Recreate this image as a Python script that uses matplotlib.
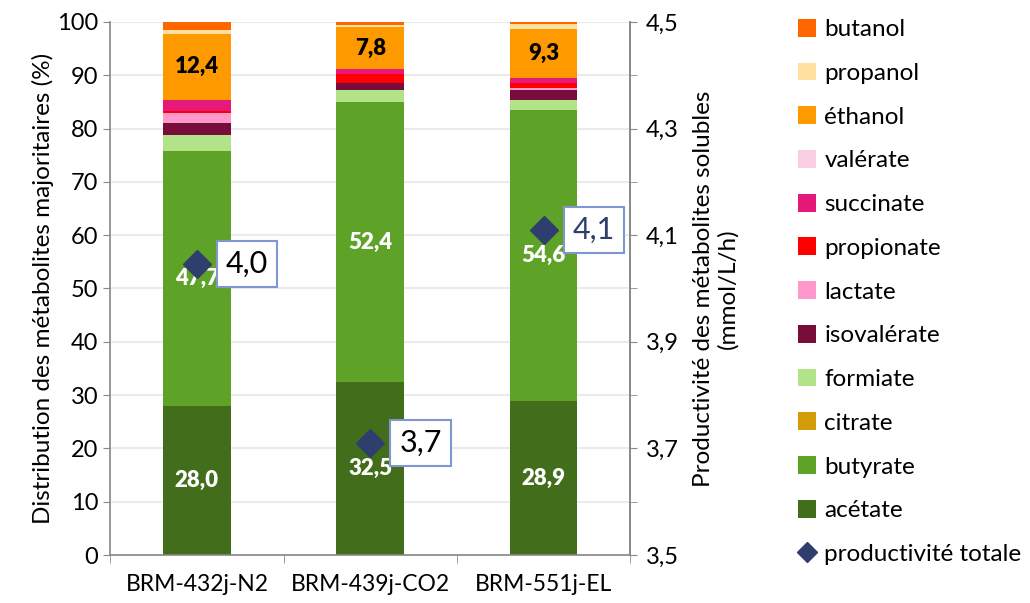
import matplotlib
matplotlib.use("Agg")
import matplotlib.pyplot as plt
from matplotlib.patches import Patch
from matplotlib.lines import Line2D
import numpy as np

plt.rcParams['font.family'] = ['Lato', 'DejaVu Sans']

categories = ["BRM-432j-N2", "BRM-439j-CO2", "BRM-551j-EL"]
series_names = ["acétate", "butyrate", "citrate", "formiate", "isovalérate", "lactate",
                "propionate", "succinate", "valérate", "éthanol", "propanol", "butanol"]
acetate = [28.0, 32.5, 28.9]
butyrate = [47.7, 52.4, 54.6]
citrate = [0.0, 0.0, 0.0]
formiate = [3.1, 2.3, 1.9]
isovalerate = [2.2, 1.3, 1.9]
lactate = [1.9, 0.0, 0.4]
propionate = [0.4, 1.8, 0.8]
succinate = [2.1, 0.9, 0.9]
valerate = [0.0, 0.0, 0.0]
ethanol = [12.4, 7.8, 9.3]
propanol = [0.6, 0.5, 0.9]
butanol = [1.6, 0.5, 0.4]
productivite = [4.046, 3.71, 4.11]
productivite_labels = ["4,0", "3,7", "4,1"]

series_values = [acetate, butyrate, citrate, formiate, isovalerate, lactate,
                 propionate, succinate, valerate, ethanol, propanol, butanol]
colors = ["#426E1B", "#5FA228", "#D39A0A", "#B3E388", "#780C3A", "#FF99CC",
          "#FF0000", "#E6197A", "#F9CEE3", "#FF9900", "#FFE09F", "#FF6600"]
label_series = {"acétate": "white", "butyrate": "white", "éthanol": "black"}

fig = plt.figure(figsize=(10.30, 6.03), dpi=100)
ax = fig.add_axes([0.107, 0.0796, 0.505, 0.884])
x = np.arange(len(categories))
bottom = np.zeros(len(categories))
for name, vals, col in zip(series_names, series_values, colors):
    vals = np.array(vals)
    ax.bar(x, vals, 0.39, bottom=bottom, color=col, edgecolor='none', zorder=2)
    if name in label_series:
        for xi, b, v in zip(x, bottom, vals):
            ax.text(xi, b + v / 2, f"{v:.1f}".replace('.', ','), ha='center', va='center',
                    color=label_series[name], fontsize=16, fontweight='heavy', zorder=5)
    bottom += vals

ax.set_xlim(-0.5, 2.5)
ax.set_ylim(0, 100)
ax.set_yticks(np.arange(0, 101, 10))
ax.yaxis.grid(True, color='#EBEBEB', lw=1.5, zorder=0)
ax.set_axisbelow(True)
ax.set_xticks(x)
ax.set_xticklabels(categories, fontsize=16.5)
ax.set_xticks([-0.5, 0.5, 1.5, 2.5], minor=True)
ax.tick_params(axis='x', which='major', length=0, pad=14)
ax.tick_params(axis='x', which='minor', length=6, color='#888888', direction='out')
ax.tick_params(axis='y', labelsize=17, length=5, color='#888888')
ax.spines['top'].set_visible(False)
for s in ['left', 'bottom', 'right']:
    ax.spines[s].set_color('#888888')
    ax.spines[s].set_linewidth(1.2)
ax.set_ylabel("Distribution des métabolites majoritaires (%)", fontsize=17.5, labelpad=2)

ax2 = ax.twinx()
ax2.set_ylim(3.5, 4.5)
ax2.set_yticks(np.arange(3.5, 4.51, 0.2))
ax2.set_yticks(np.arange(3.6, 4.41, 0.2), minor=True)
ax2.set_yticklabels([f"{t:.1f}".replace('.', ',') for t in np.arange(3.5, 4.51, 0.2)])
ax2.tick_params(axis='y', which='major', labelsize=17, length=5, color='#888888', pad=6)
ax2.tick_params(axis='y', which='minor', length=5, color='#888888')
for s in ['top', 'left', 'bottom']:
    ax2.spines[s].set_visible(False)
ax2.spines['right'].set_color('#888888')
ax2.spines['right'].set_linewidth(1.2)
ax2.set_ylabel("Productivité des métabolites solubles\n(mmol/L/h)", fontsize=17.5, labelpad=10)
ax2.plot(x, productivite, linestyle='none', marker='D', markersize=14,
         color='#2E3F6E', zorder=6)
text_colors = ["black", "black", "#2E3F6E"]
for xi, p, lab, tc in zip(x, productivite, productivite_labels, text_colors):
    ax2.annotate(lab, xy=(xi, p), xytext=(21, 0), textcoords='offset points',
                 ha='left', va='center', fontsize=22, color=tc, zorder=7,
                 bbox=dict(boxstyle='square,pad=0.3', fc='white', ec='#8096D0', lw=1.5))

handles = []
for name, col in list(zip(series_names, colors))[::-1]:
    handles.append(Patch(facecolor=col, edgecolor='none', label=name))
handles.append(Line2D([], [], linestyle='none', marker='D', markersize=10,
                      color='#2E3F6E', label='productivité totale'))
fig.legend(handles=handles, loc='upper left', bbox_to_anchor=(0.765, 0.985),
           frameon=False, fontsize=17.5, handlelength=0.75, handleheight=0.75,
           handletextpad=0.35, labelspacing=0.92, borderaxespad=0)

fig.savefig("out.png", dpi=100)
